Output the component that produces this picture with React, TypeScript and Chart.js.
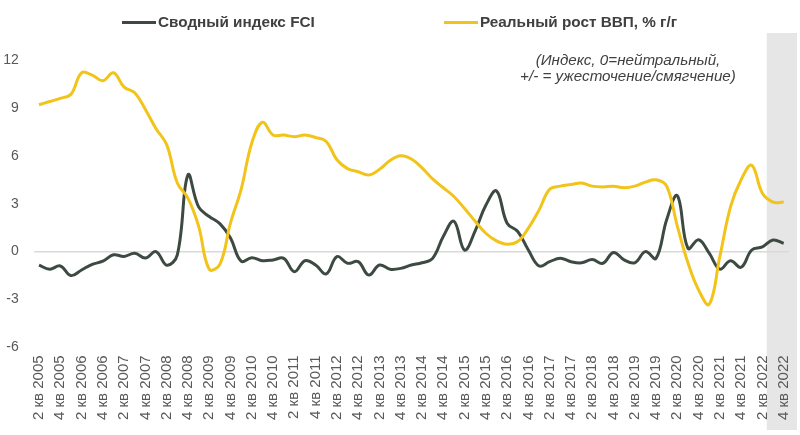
import React, { useEffect, useRef } from "react";
import { Chart, registerables } from "chart.js";

Chart.register(...registerables);

const quarterLabels: string[] = [
  "2 кв 2005", "3 кв 2005", "4 кв 2005",
  "1 кв 2006", "2 кв 2006", "3 кв 2006", "4 кв 2006",
  "1 кв 2007", "2 кв 2007", "3 кв 2007", "4 кв 2007",
  "1 кв 2008", "2 кв 2008", "3 кв 2008", "4 кв 2008",
  "1 кв 2009", "2 кв 2009", "3 кв 2009", "4 кв 2009",
  "1 кв 2010", "2 кв 2010", "3 кв 2010", "4 кв 2010",
  "1 кв 2011", "2 кв 2011", "3 кв 2011", "4 кв 2011",
  "1 кв 2012", "2 кв 2012", "3 кв 2012", "4 кв 2012",
  "1 кв 2013", "2 кв 2013", "3 кв 2013", "4 кв 2013",
  "1 кв 2014", "2 кв 2014", "3 кв 2014", "4 кв 2014",
  "1 кв 2015", "2 кв 2015", "3 кв 2015", "4 кв 2015",
  "1 кв 2016", "2 кв 2016", "3 кв 2016", "4 кв 2016",
  "1 кв 2017", "2 кв 2017", "3 кв 2017", "4 кв 2017",
  "1 кв 2018", "2 кв 2018", "3 кв 2018", "4 кв 2018",
  "1 кв 2019", "2 кв 2019", "3 кв 2019", "4 кв 2019",
  "1 кв 2020", "2 кв 2020", "3 кв 2020", "4 кв 2020",
  "1 кв 2021", "2 кв 2021", "3 кв 2021", "4 кв 2021",
  "1 кв 2022", "2 кв 2022", "3 кв 2022", "4 кв 2022",
];

const fciValues: number[] = [
  -0.85, -1.1, -0.9, -1.5, -1.15, -0.8, -0.6, -0.2, -0.3, -0.1,
  -0.4, 0.0, -0.85, -0.2, 4.8, 2.8, 2.2, 1.75, 0.85, -0.6,
  -0.38, -0.57, -0.52, -0.42, -1.26, -0.57, -0.84, -1.4, -0.31, -0.73,
  -0.63, -1.47, -0.84, -1.1, -1.05, -0.84, -0.7, -0.42, 0.94, 1.9,
  0.1, 1.3, 2.9, 3.8, 1.78, 1.26, 0.1, -0.9, -0.63, -0.42,
  -0.63, -0.7, -0.5, -0.73, -0.05, -0.52, -0.7, 0.0, -0.42, 2.0,
  3.5, 0.2, 0.74, -0.1, -1.1, -0.57, -0.98, 0.1, 0.3, 0.73,
  0.52,
];

const gdpValues: number[] = [
  9.2, 9.4, 9.6, 9.85, 11.2, 11.05, 10.7, 11.2, 10.3, 9.95,
  8.9, 7.7, 6.7, 4.3, 3.35, 1.6, -1.1, -0.8, 1.8, 3.9,
  6.8, 8.1, 7.3, 7.3, 7.2, 7.3, 7.15, 6.9, 5.75, 5.2,
  5.0, 4.8, 5.15, 5.7, 6.0, 5.8, 5.25, 4.55, 4.0, 3.45,
  2.7, 1.9, 1.15, 0.67, 0.46, 0.63, 1.47, 2.6, 3.9, 4.1,
  4.2, 4.3, 4.1, 4.05, 4.1, 4.0, 4.1, 4.35, 4.5, 4.1,
  1.6, -0.7, -2.4, -3.3, -0.3, 2.8, 4.5, 5.4, 3.65, 3.1,
  3.1,
];

const seriesNames = ["Сводный индекс FCI", "Реальный рост ВВП, % г/г"];
const noteLines = ["(Индекс, 0=нейтральный,", "+/- = ужесточение/смягчение)"];
const yTicks = { min: -6, max: 12, step: 3 };

const FCI_COLOR = "#3c4a41";
const GDP_COLOR = "#f2c318";
const TEXT_COLOR = "#595959";
const FONT = "'Liberation Sans', Arial, sans-serif";

const bandPlugin = {
  id: "forecastBand",
  beforeDraw(chart: any) {
    const x = chart.scales.x;
    const n = quarterLabels.length;
    const left = (x.getPixelForValue(n - 3) + x.getPixelForValue(n - 2)) / 2 - 1;
    const ctx = chart.ctx;
    ctx.save();
    ctx.fillStyle = "#e6e6e6";
    ctx.fillRect(left, 33, chart.width - 3 - left, 397);
    ctx.restore();
  },
};

export default function App() {
  const canvasRef = useRef<HTMLCanvasElement | null>(null);

  useEffect(() => {
    document.body.style.margin = "0";
    const canvas = canvasRef.current;
    if (!canvas) return;
    const chart = new Chart(canvas, {
      type: "line",
      data: {
        labels: quarterLabels,
        datasets: [
          {
            label: seriesNames[0],
            data: fciValues,
            borderColor: FCI_COLOR,
            backgroundColor: FCI_COLOR,
            borderWidth: 3,
            pointRadius: 0,
            tension: 0.4,
            order: 2,
          },
          {
            label: seriesNames[1],
            data: gdpValues,
            borderColor: GDP_COLOR,
            backgroundColor: GDP_COLOR,
            borderWidth: 3,
            pointRadius: 0,
            tension: 0.4,
            order: 1,
          },
        ],
      },
      options: {
        responsive: false,
        animation: false,
        layout: { padding: { top: 60, left: 2, right: 11, bottom: 7 } },
        plugins: { legend: { display: false }, tooltip: { enabled: false } },
        scales: {
          x: {
            type: "category",
            offset: true,
            grid: { display: false, drawTicks: false },
            border: { display: false },
            afterFit: (s: any) => {
              s.paddingLeft = 0;
              s.paddingRight = 0;
            },
            ticks: {
              autoSkip: false,
              maxRotation: 90,
              minRotation: 90,
              padding: 8,
              color: TEXT_COLOR,
              font: { family: FONT, size: 15 },
              callback: (_v: any, i: number) => (i % 2 === 0 ? quarterLabels[i] : ""),
            },
          },
          y: {
            min: yTicks.min,
            max: yTicks.max,
            afterFit: (s: any) => {
              s.width = 31.7;
              s.paddingTop = 0;
              s.paddingBottom = 0;
            },
            grid: {
              drawTicks: false,
              lineWidth: 1.5,
              color: (c: any) => (c.tick && c.tick.value === 0 ? "#d9d9d9" : "rgba(0,0,0,0)"),
            },
            border: { display: false },
            ticks: {
              stepSize: yTicks.step,
              padding: 15,
              color: TEXT_COLOR,
              font: { family: FONT, size: 14 },
            },
          },
        },
      },
      plugins: [bandPlugin],
    });
    return () => chart.destroy();
  }, []);

  const legendItem = (left: number, color: string, text: string) => (
    <div
      style={{
        position: "absolute",
        left,
        top: 13,
        height: 18,
        display: "flex",
        alignItems: "center",
        fontFamily: FONT,
        fontWeight: "bold",
        fontSize: 15.3,
        color: "#404040",
        whiteSpace: "nowrap",
      }}
    >
      <span style={{ display: "inline-block", width: 34, height: 3, background: color, marginRight: 2 }} />
      <span>{text}</span>
    </div>
  );

  return (
    <div style={{ position: "relative", width: 800, height: 435, background: "#fff" }}>
      <canvas ref={canvasRef} width={800} height={435} style={{ display: "block" }} />
      {legendItem(122, FCI_COLOR, seriesNames[0])}
      {legendItem(444, GDP_COLOR, seriesNames[1])}
      <div
        style={{
          position: "absolute",
          left: 478,
          width: 300,
          top: 52,
          textAlign: "center",
          fontFamily: FONT,
          fontStyle: "italic",
          fontSize: 15.2,
          lineHeight: "16px",
          color: "#404040",
        }}
      >
        {noteLines.map((l) => (
          <div key={l}>{l}</div>
        ))}
      </div>
    </div>
  );
}
